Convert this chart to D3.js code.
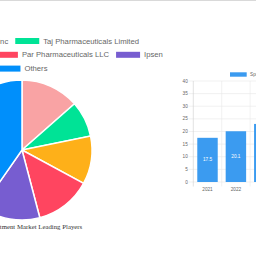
<!DOCTYPE html>
<html>
<head>
<meta charset="utf-8">
<script src="https://cdn.jsdelivr.net/npm/d3@7"></script>
<style>
  html, body { margin: 0; padding: 0; background: #fff; overflow: hidden; }
  svg { display: block; }
</style>
</head>
<body>
<svg id="chart" width="256" height="256"></svg>
<script>
// ---- data ----
const players = ['Bausch Health US Inc', 'Taj Pharmaceuticals Limited', 'Lupin Pharmaceuticals',
                 'Par Pharmaceuticals LLC', 'Ipsen', 'Others'];
const shares = [13.5, 8.3, 11.1, 13.0, 13.8, 40.3];
const pieColors = ['#f9a3a4', '#00e396', '#feb019', '#ff4560', '#775dd0', '#008ffb'];

const years = ['2021', '2022', '2023'];
const spending = [17.5, 20.1, 23.0];
const yTicks = [0, 5, 10, 15, 20, 25, 30, 35, 40];
const seriesName = 'Spending (USD Billion)';
const chartTitle = 'Psoriasis Treatment Market Leading Players';

const svg = d3.select('#chart');

// top border line
svg.append('line')
    .attr('x1', 0).attr('x2', 256).attr('y1', 0.5).attr('y2', 0.5)
    .attr('stroke', '#d9d9d9').attr('stroke-width', 1);

// ---- left: pie chart ----
const pieCx = 22, pieCy = 150, radius = 70;
const pieGroup = svg.append('g').attr('transform', `translate(${pieCx},${pieCy})`);
const pie = d3.pie().sort(null).value(d => d)(shares);
const arc = d3.arc().innerRadius(0).outerRadius(radius);

pieGroup.selectAll('path')
    .data(pie)
    .join('path')
    .attr('d', arc)
    .attr('fill', (d, i) => pieColors[i])
    .attr('stroke', '#fff')
    .attr('stroke-width', 1.5);

// legend (wrapped rows, centered on the pie chart area)
const legendFont = 7.7, boxW = 24, boxH = 6, boxGap = 4, itemGap = 7;
const legendMaxW = 300, legendTop = 41, rowH = 13.8;
const measure = svg.append('text')
    .attr('font-family', 'Liberation Sans, Arial, sans-serif')
    .attr('font-size', legendFont);
const items = players.map((p, i) => {
    measure.text(p);
    return { name: p, color: pieColors[i], w: boxW + boxGap + measure.node().getComputedTextLength() };
});
measure.remove();

const rows = [];
let cur = [], curW = 0;
items.forEach(it => {
    const add = cur.length ? itemGap + it.w : it.w;
    if (cur.length && curW + add > legendMaxW) {
        rows.push({ items: cur, w: curW });
        cur = [it]; curW = it.w;
    } else {
        cur.push(it); curW += add;
    }
});
rows.push({ items: cur, w: curW });

const legend = svg.append('g');
rows.forEach((row, r) => {
    let x = pieCx - row.w / 2;
    const y = legendTop + r * rowH;
    row.items.forEach(it => {
        legend.append('rect')
            .attr('x', x).attr('y', y - boxH / 2)
            .attr('width', boxW).attr('height', boxH)
            .attr('fill', it.color);
        legend.append('text')
            .attr('x', x + boxW + boxGap).attr('y', y)
            .attr('dominant-baseline', 'central')
            .attr('font-family', 'Liberation Sans, Arial, sans-serif')
            .attr('font-size', legendFont)
            .attr('fill', '#666')
            .text(it.name);
        x += it.w + itemGap;
    });
});

// title below pie
svg.append('text')
    .attr('x', pieCx).attr('y', 226)
    .attr('text-anchor', 'middle')
    .attr('dominant-baseline', 'central')
    .attr('font-family', 'Liberation Serif, Times New Roman, serif')
    .attr('font-size', 6.8)
    .attr('fill', '#333')
    .text(chartTitle);

// ---- right: bar chart ----
const plotLeft = 193.3, plotTop = 81, plotBottom = 182, step = 28.4;
const x = d3.scaleBand().domain(years).range([plotLeft, plotLeft + step * years.length]);
const y = d3.scaleLinear().domain([0, 40]).range([plotBottom, plotTop]);
const barFont = 4.7;

const grid = svg.append('g');
// horizontal grid + tick marks
grid.selectAll('.hgrid')
    .data(yTicks)
    .join('line')
    .attr('x1', plotLeft - 4.5).attr('x2', 260)
    .attr('y1', d => y(d)).attr('y2', d => y(d))
    .attr('stroke', '#e8e8e8').attr('stroke-width', 0.6);
// vertical grid at category boundaries
const bounds = years.map(d => x(d)).concat([x(years[years.length - 1]) + step]);
grid.selectAll('.vgrid')
    .data(bounds)
    .join('line')
    .attr('x1', d => d).attr('x2', d => d)
    .attr('y1', plotTop).attr('y2', plotBottom + 4.5)
    .attr('stroke', (d, i) => i === 0 ? '#cfcfcf' : '#e8e8e8')
    .attr('stroke-width', 0.6);

// y labels
svg.append('g').selectAll('text')
    .data(yTicks)
    .join('text')
    .attr('x', plotLeft - 5.5).attr('y', d => y(d))
    .attr('text-anchor', 'end')
    .attr('dominant-baseline', 'central')
    .attr('font-family', 'Liberation Sans, Arial, sans-serif')
    .attr('font-size', barFont)
    .attr('fill', '#666')
    .text(d => d);

// x labels
svg.append('g').selectAll('text')
    .data(years)
    .join('text')
    .attr('x', d => x(d) + step / 2).attr('y', 189)
    .attr('text-anchor', 'middle')
    .attr('dominant-baseline', 'central')
    .attr('font-family', 'Liberation Sans, Arial, sans-serif')
    .attr('font-size', barFont)
    .attr('fill', '#666')
    .text(d => d);

// bars
const barW = step * 0.72;
svg.append('g').selectAll('rect')
    .data(spending)
    .join('rect')
    .attr('x', (d, i) => x(years[i]) + (step - barW) / 2)
    .attr('y', d => y(d))
    .attr('width', barW)
    .attr('height', d => plotBottom - y(d))
    .attr('fill', '#3b9bf0');

svg.append('g').selectAll('text')
    .data(spending)
    .join('text')
    .attr('x', (d, i) => x(years[i]) + step / 2)
    .attr('y', d => (y(d) + plotBottom) / 2)
    .attr('text-anchor', 'middle')
    .attr('dominant-baseline', 'central')
    .attr('font-family', 'Liberation Sans, Arial, sans-serif')
    .attr('font-size', barFont)
    .attr('fill', '#fff')
    .text(d => d.toFixed(1));

// bar legend
svg.append('rect')
    .attr('x', 230).attr('y', 72.3).attr('width', 16.7).attr('height', 4.4)
    .attr('fill', '#3b9bf0');
svg.append('text')
    .attr('x', 250).attr('y', 74.5)
    .attr('dominant-baseline', 'central')
    .attr('font-family', 'Liberation Sans, Arial, sans-serif')
    .attr('font-size', barFont)
    .attr('fill', '#666')
    .text(seriesName);
</script>
</body>
</html>
